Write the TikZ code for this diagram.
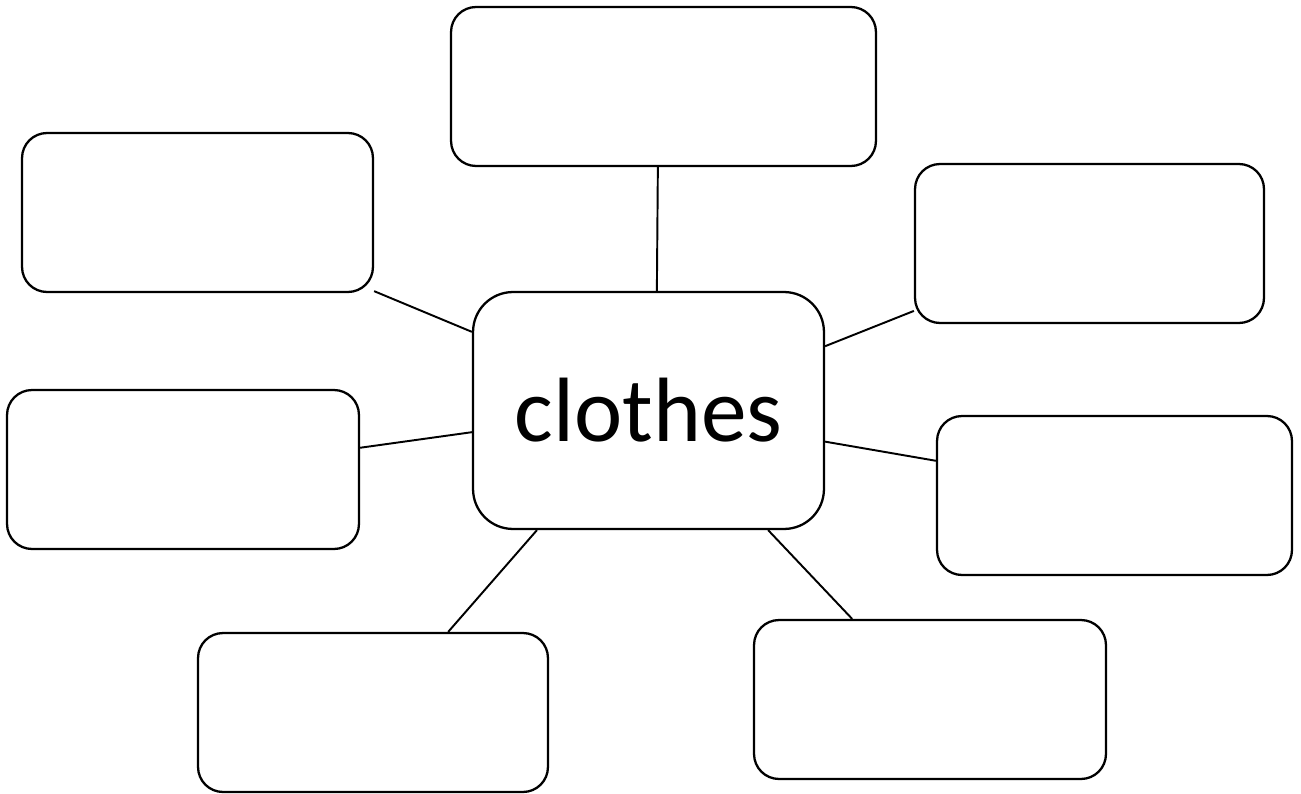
\documentclass[tikz,border=0pt]{standalone}
\usepackage{fontspec}
\setmainfont{Carlito}
\usepackage{tikz}

\begin{document}
\begin{tikzpicture}[x=0.02cm, y=-0.02cm,
  idea/.style={draw, line width=1.3pt, rounded corners=0.5cm, minimum height=3.18cm, inner sep=0pt},
  link/.style={line width=1.1pt}]
\useasboundingbox (0,0) rectangle (1301,794);
\node[draw, line width=1.3pt, rounded corners=0.8cm, minimum width=7.02cm, minimum height=4.74cm,
  inner sep=0pt, font=\fontsize{52}{62}\selectfont] (clothes) at (648.5,410.5) {clothes};
\node[idea, minimum width=8.5cm] (ideaN) at (663.5,86.5) {};
\node[idea, minimum width=7.02cm] (ideaNW) at (197.5,212.5) {};
\node[idea, minimum width=6.98cm] (ideaNE) at (1089.5,243.5) {};
\node[idea, minimum width=7.04cm] (ideaW) at (183,469.5) {};
\node[idea, minimum width=7.1cm] (ideaE) at (1114.5,495.5) {};
\node[idea, minimum width=7.0cm] (ideaSW) at (373,712.5) {};
\node[idea, minimum width=7.04cm] (ideaSE) at (930,699.5) {};
\draw[link] (clothes.86.9) -- (ideaN.266.8);
\draw[link] (clothes.156.2) -- (ideaNW.-24.1);
\draw[link] (clothes.20.2) -- (ideaNE.201.7);
\draw[link] (clothes.187.3) -- (ideaW.7.3);
\draw[link] (clothes.-10.5) -- (ideaE.169.6);
\draw[link] (clothes.227) -- (ideaSW.47.8);
\draw[link] (clothes.-45.2) -- (ideaSE.134.5);
\end{tikzpicture}
\end{document}
